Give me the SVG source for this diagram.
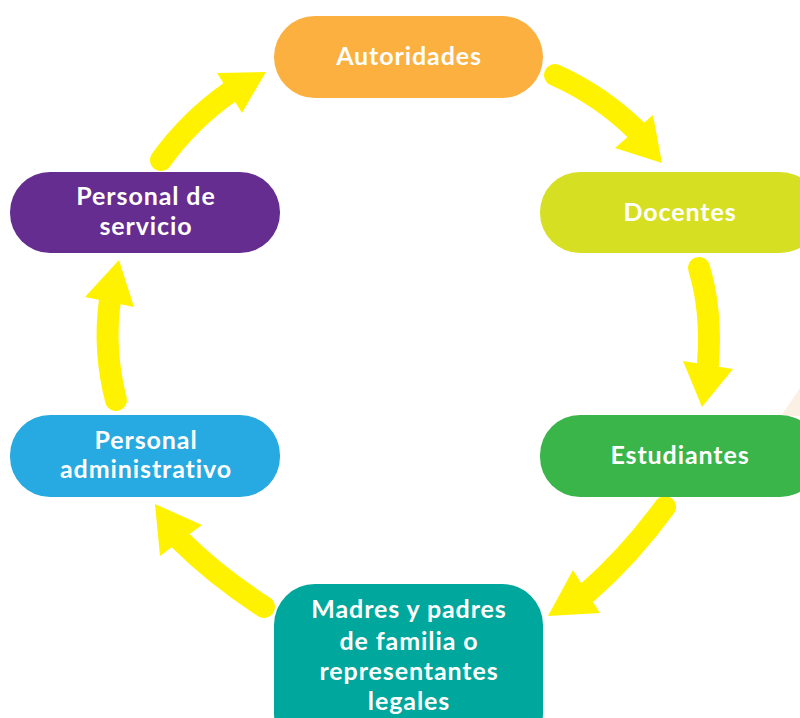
<svg xmlns="http://www.w3.org/2000/svg" width="800" height="718" viewBox="0 0 800 718">
<style>
.lbl{font-family:Lato,"Open Sans","Liberation Sans",sans-serif;font-weight:700;font-size:25px;fill:#ffffff;text-anchor:middle;letter-spacing:0.9px}
.shaft{fill:none;stroke:#FFF200;stroke-width:22;stroke-linecap:round}
.head{fill:#FFF200}
</style>
<rect width="800" height="718" fill="#ffffff"/>
<polygon points="800,388 781,416 800,416" fill="#FBF0E4"/>
<g id="connectors">
<path class="shaft" d="M555,75 Q600,95 636,130"/>
<polygon class="head" points="662,163 653,115 615,148"/>
<path class="shaft" d="M699,268 Q712,310 708,364"/>
<polygon class="head" points="702,407 683,361 733,369"/>
<path class="shaft" d="M665,507 Q630,555 588,592"/>
<polygon class="head" points="548,616 573,570 600,613"/>
<path class="shaft" d="M264,607 Q215,575 180,540"/>
<polygon class="head" points="155,504 202,525 160,556"/>
<path class="shaft" d="M116,400 Q103,350 110,300"/>
<polygon class="head" points="119,260 85,297 134,307"/>
<path class="shaft" d="M161,160 Q190,120 230,92"/>
<polygon class="head" points="266,72 217,73 242,113"/>
</g>
<g id="autoridades">
<rect x="274" y="16" width="269" height="82" rx="41" fill="#FBB040"/>
<text class="lbl" x="409" y="65">Autoridades</text>
</g>
<g id="docentes">
<rect x="540" y="172" width="280" height="81" rx="40" fill="#D7DF23"/>
<text class="lbl" x="680" y="221">Docentes</text>
</g>
<g id="estudiantes">
<rect x="540" y="415" width="280" height="82" rx="40" fill="#39B54A"/>
<text class="lbl" x="680" y="464">Estudiantes</text>
</g>
<g id="madres">
<rect x="274" y="584" width="269" height="170" rx="41" fill="#00A79D"/>
<text class="lbl" x="409" y="618">Madres y padres</text>
<text class="lbl" x="409" y="650">de familia o</text>
<text class="lbl" x="409" y="680">representantes</text>
<text class="lbl" x="409" y="710">legales</text>
</g>
<g id="personal-administrativo">
<rect x="10" y="415" width="270" height="82" rx="40" fill="#27AAE1"/>
<text class="lbl" x="146" y="449">Personal</text>
<text class="lbl" x="146" y="478">administrativo</text>
</g>
<g id="personal-servicio">
<rect x="10" y="172" width="270" height="81" rx="40" fill="#662D91"/>
<text class="lbl" x="146" y="205">Personal de</text>
<text class="lbl" x="146" y="235">servicio</text>
</g>
</svg>
